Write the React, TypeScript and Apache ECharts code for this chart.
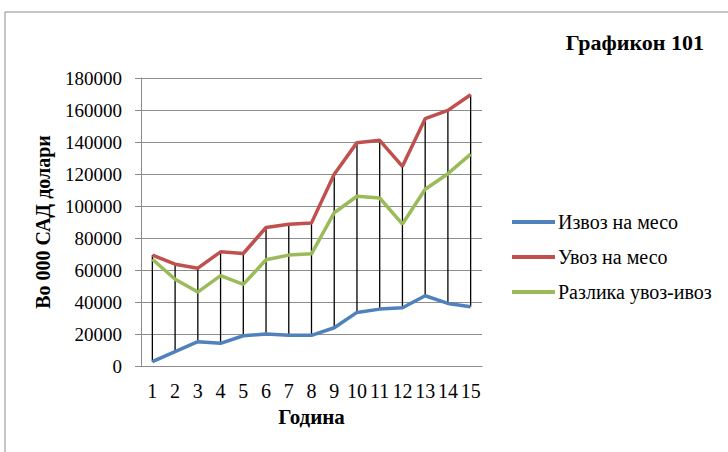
import React, { useEffect, useRef } from "react";
import * as echarts from "echarts";

const categories = ["1", "2", "3", "4", "5", "6", "7", "8", "9", "10", "11", "12", "13", "14", "15"];
const exportMeat = [2700, 8950, 15200, 14150, 18900, 19950, 19150, 19150, 23900, 33500, 35550, 36400, 43900, 39100, 37000];
const importMeat = [69300, 63650, 61150, 71350, 70300, 86550, 88600, 89450, 119800, 139600, 141050, 124800, 154550, 159750, 169550];
const difference = [66700, 54200, 46200, 56500, 51000, 66400, 69300, 70100, 95800, 106100, 105000, 88700, 110500, 120200, 132400];
const seriesNames = ["Извоз на месо", "Увоз на месо", "Разлика увоз-ивоз"];
const titleText = "Графикон 101";
const yTitle = "Во 000 САД долари";
const xTitle = "Година";

const FONT = "Liberation Serif";

export default function App() {
  const ref = useRef<HTMLDivElement>(null);
  useEffect(() => {
    if (!ref.current) return;
    const chart = echarts.init(ref.current, null, { renderer: "svg" });
    const dropData = categories.map((_, i) => [i, exportMeat[i], importMeat[i]]);
    chart.setOption({
      animation: false,
      backgroundColor: "#ffffff",
      textStyle: { fontFamily: FONT, color: "#000" },
      title: {
        text: titleText,
        right: 24,
        top: 31,
        padding: 0,
        textStyle: { fontFamily: FONT, fontSize: 22, fontWeight: "bold", color: "#000" },
      },
      graphic: [
        {
          type: "rect",
          shape: { x: 5, y: 12, width: 760, height: 470 },
          style: { fill: "none", stroke: "#8c8c8c", lineWidth: 1 },
          silent: true,
        },
      ],
      legend: {
        orient: "vertical",
        left: 512,
        top: 212,
        padding: 0,
        itemWidth: 43,
        itemHeight: 4,
        itemGap: 15,
        icon: "rect",
        textStyle: { fontFamily: FONT, fontSize: 20, color: "#000", padding: [0, 0, 0, -2] },
        data: seriesNames,
      },
      grid: { left: 141, right: 246, top: 78, bottom: 86 },
      xAxis: {
        type: "category",
        data: categories,
        boundaryGap: true,
        name: xTitle,
        nameLocation: "middle",
        nameGap: 40,
        nameTextStyle: { fontFamily: FONT, fontSize: 21, fontWeight: "bold", color: "#000" },
        axisLine: { lineStyle: { color: "#8c8c8c", width: 1 } },
        axisTick: { show: false },
        axisLabel: { fontFamily: FONT, fontSize: 20, color: "#000", margin: 15, interval: 0 },
      },
      yAxis: {
        type: "value",
        min: 0,
        max: 180000,
        interval: 20000,
        name: yTitle,
        nameLocation: "middle",
        nameGap: 88,
        nameRotate: 90,
        nameTextStyle: { fontFamily: FONT, fontSize: 20, fontWeight: "bold", color: "#000" },
        axisLine: { show: true, lineStyle: { color: "#8c8c8c", width: 1 } },
        axisTick: { show: true, length: 6, lineStyle: { color: "#8c8c8c" } },
        axisLabel: { fontFamily: FONT, fontSize: 19, color: "#000", margin: 19, formatter: (v: number) => String(v) },
        splitLine: { lineStyle: { color: "#8c8c8c", width: 1 } },
      },
      series: [
        {
          type: "custom",
          name: "drop",
          silent: true,
          z: 1,
          data: dropData,
          encode: { x: 0, y: [1, 2] },
          renderItem: (params: any, api: any) => {
            const p1 = api.coord([api.value(0), api.value(1)]);
            const p2 = api.coord([api.value(0), api.value(2)]);
            return {
              type: "line",
              shape: { x1: p1[0], y1: p1[1], x2: p2[0], y2: p2[1] },
              style: { stroke: "#000", lineWidth: 1.3 },
            };
          },
        },
        {
          name: seriesNames[0],
          type: "line",
          data: exportMeat,
          z: 3,
          symbol: "none",
          color: "#4F81BD",
          lineStyle: { width: 3.5, color: "#4F81BD" },
        },
        {
          name: seriesNames[1],
          type: "line",
          data: importMeat,
          z: 3,
          symbol: "none",
          color: "#C0504D",
          lineStyle: { width: 3.5, color: "#C0504D" },
        },
        {
          name: seriesNames[2],
          type: "line",
          data: difference,
          z: 3,
          symbol: "none",
          color: "#9BBB59",
          lineStyle: { width: 3.5, color: "#9BBB59" },
        },
      ],
    });
    return () => chart.dispose();
  }, []);
  return <div ref={ref} style={{ width: 728, height: 452, position: "absolute", left: 0, top: 0 }} />;
}
